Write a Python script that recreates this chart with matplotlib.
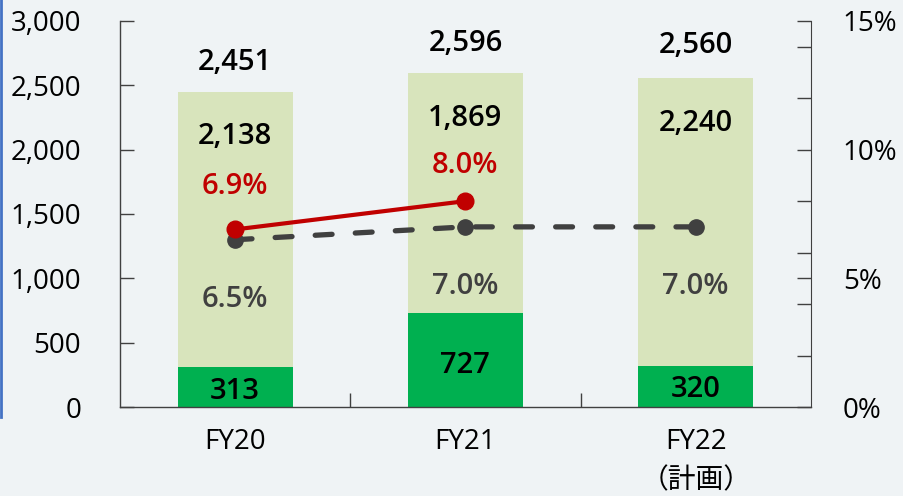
import matplotlib
matplotlib.use("Agg")
import matplotlib.pyplot as plt
from matplotlib.lines import Line2D

plt.rcParams['font.family'] = ['Open Sans', 'Noto Sans CJK JP', 'DejaVu Sans']

# data
categories = ["FY20", "FY21", "FY22\n（計画）"]
bottom_vals = [313, 727, 320]
upper_vals = [2138, 1869, 2240]
totals = [2451, 2596, 2560]
red_pct = [6.9, 8.0]
red_labels = ["6.9%", "8.0%"]
gray_pct = [6.5, 7.0, 7.0]
gray_labels = ["6.5%", "7.0%", "7.0%"]

# label placement (data coords)
total_y = [2680, 2827, 2812]
upper_y = [2105, 2245, 2205]
bottom_y = [123, 325, 138]
red_lab_y = [8.58, 9.38]
gray_lab_y = [4.18, 4.7, 4.7]

bg = "#eff3f5"
light_green = "#d8e4bc"
dark_green = "#00b050"
red = "#c00000"
gray = "#404040"
fs = 20
fsb = 21

fig = plt.figure(figsize=(9.04, 4.96), dpi=100, facecolor=bg)
ax = fig.add_axes([0.1327, 0.1794, 0.7643, 0.7783])
ax.set_facecolor(bg)
x = list(range(len(categories)))

ax.bar(x, bottom_vals, width=0.5, color=dark_green, zorder=2)
ax.bar(x, upper_vals, width=0.5, bottom=bottom_vals, color=light_green, zorder=2)
ax.set_xlim(-0.5, 2.5)
ax.set_ylim(0, 3000)
ax.set_yticks(range(0, 3001, 500))
ax.set_yticklabels([f"{v:,}" for v in range(0, 3001, 500)])
ax.set_xticks(x)
ax.set_xticklabels(categories, linespacing=1.55)
ax.set_xticks([0.5, 1.5], minor=True)
ax.tick_params(axis='x', which='major', length=0, pad=15, labelsize=fs)
ax.tick_params(axis='x', which='minor', length=10, direction='in', color=gray, width=1)
ax.tick_params(axis='y', length=10, direction='in', color=gray, width=1, labelsize=fs, pad=28)
for s in ['top', 'right']:
    ax.spines[s].set_visible(False)
for s in ['left', 'bottom']:
    ax.spines[s].set_color(gray)
    ax.spines[s].set_linewidth(1)

for i in x:
    ax.text(i, total_y[i], f"{totals[i]:,}", ha='center', va='center', fontsize=fsb, fontweight='semibold', color='black', zorder=5)
    ax.text(i, upper_y[i], f"{upper_vals[i]:,}", ha='center', va='center', fontsize=fsb, fontweight='semibold', color='black', zorder=5)
    ax.text(i, bottom_y[i], f"{bottom_vals[i]:,}", ha='center', va='center', fontsize=fsb, fontweight='semibold', color='black', zorder=5)

ax2 = ax.twinx()
ax2.set_ylim(0, 15)
ax2.set_yticks([0, 5, 10, 15])
ax2.set_yticklabels(["0%", "5%", "10%", "15%"])
ax2.set_yticks(range(2, 15, 2), minor=True)
ax2.tick_params(axis='y', which='both', length=10, direction='in', color=gray, width=1, labelsize=fs, pad=23)
for s in ['top', 'left', 'bottom']:
    ax2.spines[s].set_visible(False)
ax2.spines['right'].set_color(gray)

ax2.plot(x, gray_pct, color=gray, lw=3.8, ls=(0, (3.2, 4.4)), marker='o', ms=11, zorder=3, dash_capstyle='round')
ax2.plot(x[:2], red_pct, color=red, lw=3, marker='o', ms=12, zorder=4)
for i in x:
    ax2.text(i, gray_lab_y[i], gray_labels[i], ha='center', va='center', fontsize=fsb, fontweight='semibold', color=gray, zorder=5)
for i in range(len(red_pct)):
    ax2.text(i, red_lab_y[i], red_labels[i], ha='center', va='center', fontsize=fsb, fontweight='semibold', color=red, zorder=5)

fig.add_artist(Line2D([0.0015, 0.0015], [1.0, 1 - 417 / 496], color="#4472c4", lw=2, transform=fig.transFigure))

fig.savefig("out.png", dpi=100, facecolor=bg)
